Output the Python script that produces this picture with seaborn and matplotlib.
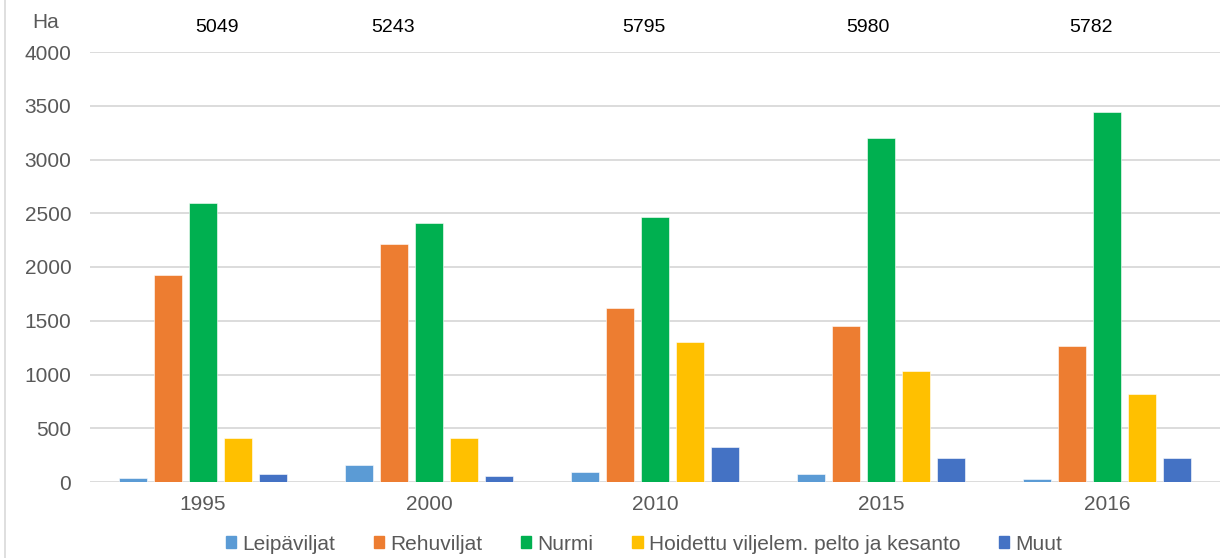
import matplotlib
matplotlib.use("Agg")
import matplotlib.pyplot as plt
import matplotlib.transforms as mtransforms
from matplotlib.lines import Line2D
import seaborn as sns
import pandas as pd

# ---- data ----
years = ["1995", "2000", "2010", "2015", "2016"]
crops = ["Leipäviljat", "Rehuviljat", "Nurmi",
         "Hoidettu viljelem. pelto ja kesanto", "Muut"]
leipaviljat = [40, 158, 90, 72, 25]
rehuviljat = [1925, 2211, 1622, 1451, 1268]
nurmi = [2598, 2412, 2462, 3203, 3439]
hoidettu = [412, 412, 1300, 1033, 816]
muut = [72, 56, 329, 226, 226]
totals = ["5049", "5243", "5795", "5980", "5782"]
total_label_x = [0.06, 0.84, 1.95, 2.94, 3.93]
y_ticks = [0, 500, 1000, 1500, 2000, 2500, 3000, 3500, 4000]
colors = ["#5B9BD5", "#ED7D31", "#00B050", "#FFC000", "#4472C4"]

series = [leipaviljat, rehuviljat, nurmi, hoidettu, muut]
rows = []
for crop, vals in zip(crops, series):
    for y, v in zip(years, vals):
        rows.append({"Vuosi": y, "Ha": v, "Kasvi": crop})
df = pd.DataFrame(rows)

sns.set_theme(style="white")
plt.rcParams["font.family"] = ["Liberation Sans", "DejaVu Sans"]

W, H = 1221, 558
fig = plt.figure(figsize=(W / 100, H / 100), dpi=100)
ax = fig.add_axes([90 / W, (H - 482) / H, 1130 / W, 430 / H])

sns.barplot(data=df, x="Vuosi", y="Ha", hue="Kasvi", order=years,
            hue_order=crops, palette=colors, width=0.774, gap=0.2,
            errorbar=None, saturation=1, ax=ax, legend=False,
            edgecolor="white", linewidth=0.4)

ax.set_ylim(0, 4000)
ax.set_xlim(-0.5, len(years) - 0.5)
ax.set_yticks(y_ticks)
ax.set_yticklabels([str(t) for t in y_ticks])
ax.yaxis.grid(True, color="#D9D9D9", linewidth=1.3)
ax.set_axisbelow(True)
for s in ax.spines.values():
    s.set_visible(False)
ax.tick_params(axis="both", length=0, labelsize=15, labelcolor="#595959")
ax.tick_params(axis="y", pad=13.5)
ax.tick_params(axis="x", pad=9.5)
ax.set_xlabel("")
ax.set_ylabel("")

# totals on top
trans = mtransforms.blended_transform_factory(ax.transData, fig.transFigure)
for xpos, t in zip(total_label_x, totals):
    ax.text(xpos, (H - 27) / H, t, transform=trans, ha="center", va="center",
            fontsize=14, color="black")

fig.text(46 / W, (H - 23) / H, "Ha", ha="center", va="center",
         fontsize=15, color="#595959")

# left border line of chart area
fig.add_artist(Line2D([5 / W, 5 / W], [0, 1], transform=fig.transFigure,
                      color="#D9D9D9", linewidth=1.2))

handles = [plt.Rectangle((0, 0), 1, 1, color=c) for c in colors]
fig.legend(handles, crops, loc="center", ncol=5,
           bbox_to_anchor=(644 / W, (H - 544) / H),
           bbox_transform=fig.transFigure, frameon=False, fontsize=15,
           labelcolor="#595959", handlelength=0.5, handleheight=0.5,
           handletextpad=0.3, columnspacing=1.85, borderpad=0, borderaxespad=0)

fig.savefig("out.png", dpi=100)
